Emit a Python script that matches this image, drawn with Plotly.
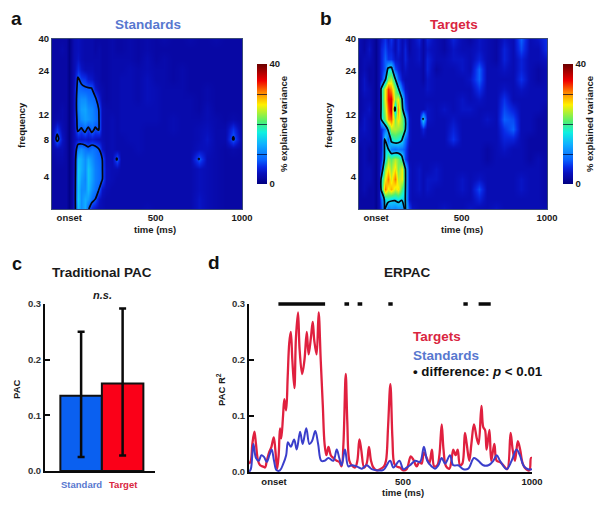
import plotly.graph_objects as go

W, H = 601, 509

# ---------- panels a / b ----------
time_bins = [-100,-70,-40,-20,0,15,30,50,70,90,110,130,150,170,190,210,
             250,275,300,350,400,450,500,550,600,650,700,750,800,850,900,950,1000]
freq_rows = list(range(18))
freq_tick_rows = [3.2, 6.9, 9.4, 13.8, 17]
freq_tick_text = ["4", "8", "12", "24", "40"]

# rows listed from the top (40) to the bottom of the map
standards_rows = [
 [2,2,2,2,.5,2,3,3.5,3,2.5,2.5,2.5,2,2,2,2, 2.5,2,2,2.5,2,2.5,2,2.5,2,2,2.5,2,2,2.5,2,2,2],
 [2,2,2.5,2,.5,2,3,3.5,3,2.5,2.5,2.5,2,2.5,2,2, 2.5,2,2,2.5,2,2.5,2,2,2,2,2,2,2,2,2,2,2],
 [2,2,2,2,.5,2,3,4,3,2.5,2.5,2.5,2.5,2.5,2,2, 2.5,2.5,2.5,2.5,2,3,2,2.5,2,2,2,2,2,2,2,2,2],
 [2,2,2,2,.5,2,3,5.5,4,3,3,3,2.5,2.5,2,2, 2.5,2.5,2.5,3,2.5,3,2.5,2.5,2,2.5,2,2,2,2,2,2,2],
 [2,2,2,2,.5,2,3.5,8,6.5,6,4.5,4,3,2.5,2,2, 2.5,2.5,3,3,2.5,3.5,2.5,2.5,2,2.5,2,2,2,2,2,2,2],
 [2,2,2,2,.5,2,4,9,8.5,8,8,7.8,4.5,3,2.5,2, 2.5,2.5,3,3,2.5,3.5,3,2.5,2.5,2.5,2,2,2.5,2,2,2,2],
 [2,2,2,2,.5,2,4,10,11,11,9.5,9,8.5,5,2.5,2, 2.5,2.5,3,3,2.5,3.5,3,2.5,2.5,2.5,2.5,2,2.5,2,2,2,2],
 [2,2,2.5,2,.5,2,4,10,12,12.5,11,10.5,9,7.6,3,2.5, 2.5,2.5,3,3,3,3,3,2.5,2.5,2.5,2.5,2,3,2,2,2,2],
 [2,2.5,2.5,2,.5,2,4,9,11,12,11.5,10.5,9.5,8,3,2.5, 3,2.5,3,3,3,3,3,2.5,3,2.5,2.5,2.5,3,2.5,2,2.5,2],
 [2.5,6,3,2,.5,2,3.5,8.5,7,9,6.5,9,7,8,3,2.5, 3,2.5,3,3,3,2.5,2.5,2.5,3,2.5,2.5,3,3.5,2.5,2.5,6,2],
 [2.5,9,4,2,.5,2,3,4.5,4,4.5,4,4.5,4,3.5,3,2.5, 3,2.5,2.5,3,3,2.5,2.5,2.5,2.5,2.5,2.5,3,4,2.5,2.5,8,2],
 [2.5,3,3,2,.5,2,4,10,11,9.5,8.5,9.5,9,7.7,4,2.5, 3,2.5,2.5,2.5,3,2.5,2.5,2.5,2.5,2.5,2.5,3.5,3.5,2.5,2,2.5,2],
 [2,2.5,2.5,2,.5,2,4,14,13,11,13,11,9.5,8.5,7.8,3, 3,8,2.5,2.5,2.5,2.5,2.5,2.5,2.5,2.5,2.5,7.7,3,2.5,2,2,2],
 [2,2,2,2,.5,2,4,15,13,11,14.5,12,10,9,8,3.5, 3,3,2.5,2.5,2.5,2.5,2.5,2.5,2.5,2.5,2.5,3.5,3,2.5,2,2,2],
 [2,2,2,2,.5,2,4.5,15,12,10.5,14.5,12,10,9,8,3.5, 3,2.5,2.5,2.5,2.5,2.5,2.5,2.5,2.5,2.5,2.5,3.5,3,2.5,2,2,2],
 [2,2,2,2,.5,2,5,14.5,11,11,14,11,9.5,8,4,3, 2.5,2.5,2.5,2.5,2.5,2.5,2.5,2.5,2.5,2.5,2.5,3.5,3,2.5,2,2,2],
 [2,2,2,2,.5,2,5,15,11,13,12,9,7.6,4,3,2.5, 2.5,2.5,2.5,2.5,2.5,2.5,2.5,2.5,2.5,2.5,2.5,4,3,2.5,2,2,2],
 [2,2,2,2,.5,2,5,14,11,13,8,5,4,3,3,2.5, 2.5,2.5,2.5,2.5,2.5,3,2.5,2.5,2.5,2.5,2.5,4,3,2.5,2,2,2],
]

targets_rows = [
 [3,2,3,2,1,3,4,6,4,6,3,5,3,4,2,3, 5,2,5,3,2,5,3,2,4,3,2,4,3,8,3,4,6],
 [3,2,4,2,1,3,5,7,5,5,3,5,3,5,2,3, 4,2,4,3,2,4,3,3,4,3,2,5,3,7,3,3,6],
 [2,3,3,2,1,3,5,8,6,6,4,4,3,5,3,3, 4,2,5,3,3,4,4,3,5,3,2,5,3,5,3,3,4],
 [2,3,2,2,1,3,5,8,16,17,7,5,3,4,3,3, 3,2,5,2,3,3,4,3,8,3,3,4,3,5,3,2,3],
 [2,4,2,2,1,3,5,12,22,24,16,8,4,3,3,3, 3,2,4,3,3,3,3,4,8,3,3,3,3,6,3,2,3],
 [2,4,3,2,1,3,16,26,33,30,22,16,8,4,3,3, 3,3,4,3,3,3,3,3,6,3,3,4,3,4,3,3,3],
 [2,3,3,2,1,3,16,26,34,35,23,26,16,6,3,3, 3,3,3,3,3,3,4,3,4,3,3,6,3,3,3,3,3],
 [2,3,4,2,1,3,16,24,32,36,13,30,18,8,3,3, 3,3,4,3,4,3,4,4,3,3,3,7,5,3,3,3,2],
 [2,4,3,2,1,3,15.5,22,30,32,22,27,22,16,4,3, 3,15.5,4,3,3,4,3,3,3,4,3,8,7,3,3,2,2],
 [3,4,3,2,1,3,5,9,16,24,24,23,22,16,4,3, 3,5,3,3,3,5,3,3,3,3,3,6,8,3,3,2,2],
 [3,3,3,2,1,3,4,15.5,8,17,19,18,16,9,4,3, 3,3,3,3,3,6,3,3,3,3,3,5,5,3,2,2,2],
 [2,3,2,2,1,3,4,15.5,15.5,10,9,10,9,7,3,3, 3,3,3,3,3,3,3,3,3,2,3,4,3,3,2,2,2],
 [2,3,2,2,1,3,5,16,23,21,24,22,18,7,3,3, 3,3,3,3,3,3,3,3,3,2,3,3,3,3,2,3,2],
 [2,3,3,2,1,3,8,23,27,23,27,22,26,16,4,3, 4,3,3,4,3,3,3,3,3,3,3,3,3,3,3,3,2],
 [2,3,3,2,1,3,16,26,31,25,31,24,26,16.5,4,3, 4,3,4,4,3,3,4,3,4,3,3,3,3,4,3,3,2],
 [2,3,2,2,1,3,16,31,26,29,25,27,20,16,4,3, 4,3,4,3,3,3,4,3,7,3,3,3,3,4,3,3,2],
 [2,2,2,2,1,3,8,16,18,16,16,17,15.6,15.6,4,3, 3,3,3,3,3,3,3,3,5,3,3,3,3,3,3,3,2],
 [2,2,2,2,1,3,6,15.5,9,11,10,11,11,16,7,4, 3,3,3,3,4,3,3,4,3,3,4,3,3,3,3,3,3],
]
standards_sig_level = 7.5
targets_sig_level = 15

colorbar_ticks = [0, 10, 20, 30, 40]
colorbar_text = ["0", "", "", "", "40"]

# ---------- panel c ----------
bar_groups = ["Standard", "Target"]
bar_means = [0.135, 0.157]
bar_upper = [0.250, 0.292]
bar_lower = [0.025, 0.028]

# ---------- panel d ----------
targets_t = [-97,-90,-84,-76,-70,-62,-54,-44,-35,-28,-19,-10,-1,5,12,18,23,28,35,40,47,53,59,65,71,79,85,93,99,
 109,118,127,134,143,150,156,165,173,181,189,196,203,211,220,230,243,253,262,269,278,284,292,301,314,323,331,338,
 349,359,368,376,385,398,411,426,434,442,451,459,466,475,488,501,514,530,540,553,563,572,581,592,602,612,621,633,
 641,650,657,667,680,686,695,704,712,721,730,740,747,757,765,775,786,793,804,811,818,824,835,842,854,863,876,889,
 904,917,925,934,945,954,964,977,990,996,1000]
targets_r2 = [.015,.02,.05,.072,.05,.02,.012,.01,.008,.02,.035,.045,.062,.04,.005,.03,.078,.06,.1,.13,.11,.17,.23,.25,.2,.15,.24,.285,.22,
 .175,.2,.25,.21,.24,.268,.235,.21,.285,.2,.12,.05,.03,.045,.03,.025,.02,.018,.01,.05,.175,.09,.02,.012,.008,.02,.058,.04,
 .008,.015,.045,.02,.008,.003,.005,.01,.02,.08,.157,.06,.015,.01,.008,.003,.005,.028,.022,.01,.018,.015,.035,.025,.015,.04,.01,.012,
 .03,.085,.04,.01,.006,.015,.04,.03,.04,.012,.015,.07,.05,.02,.05,.085,.06,.05,.118,.08,.075,.04,.075,.02,.05,.02,.018,.012,
 .005,.07,.04,.02,.055,.04,.015,.005,.003,.025,.025]

standards_t = [-97,-90,-80,-70,-59,-49,-39,-28,-18,-9,0,10,23,36,47,54,65,78,88,101,111,125,137,147,160,171,183,196,211,230,243,253,
 262,275,288,301,320,340,359,379,398,424,450,463,486,501,514,527,547,566,581,594,611,624,637,650,663,682,695,714,734,753,775,792,811,
 831,850,863,876,902,921,940,953,969,985,1000]
standards_r2 = [0,.005,.05,.025,.02,.03,.027,.018,.03,.04,.02,.003,.003,.015,.03,.053,.045,.058,.04,.072,.05,.078,.05,.055,.073,.05,.02,.02,.025,.02,.04,.025,
 .012,.04,.01,.012,.01,.006,.012,.005,.003,.004,.02,.008,.02,.005,.008,.012,.02,.018,.045,.02,.01,.006,.012,.025,.015,.03,.012,.012,.005,.006,.025,.02,.012,
 .012,.02,.03,.02,.005,.02,.04,.03,.01,.005,.005]

sig_start = [17, 273, 324, 443, 734, 793]
sig_end = [198, 291, 342, 460, 751, 840]
erpac_ticks = [0, 500, 1000]
erpac_tick_text = ["onset", "500", "1000"]
pac_ticks = [0, 0.1, 0.2, 0.3]

# ---------- styling helpers ----------
SANS = "Liberation Sans"
BLUE_T, RED_T = "#5878cf", "#d9263f"
def px(x): return x / W
def py(y): return 1 - y / H
def tf(size=9.5, color="#1a1a1a"):
    return dict(family=SANS, size=size, color=color, weight=700)

fig = go.Figure()
jet = [[0, "#00007f"], [.05, "#0808a4"], [.09, "#0810bc"], [.14, "#0828e4"], [.2, "#0860ff"], [.33, "#10b0ff"], [.43, "#10f0e0"],
       [.52, "#50f070"], [.66, "#fff000"], [.76, "#ff8800"], [.86, "#f00000"], [1, "#6a0000"]]

def heat(z_rows, xa, ya, cbx, level):
    z = z_rows[::-1]
    fig.add_trace(go.Heatmap(x=time_bins, y=freq_rows, z=z, zmin=0, zmax=40, zsmooth="best",
        colorscale=jet, xaxis=xa, yaxis=ya, hoverinfo="skip",
        colorbar=dict(x=px(cbx), xanchor="left", xpad=0, ypad=0, y=py(124), yanchor="middle",
                      lenmode="pixels", len=120, thicknessmode="pixels", thickness=10,
                      outlinewidth=0, tickmode="array", tickvals=colorbar_ticks, ticktext=colorbar_text,
                      ticks="inside", ticklen=10, tickwidth=1, tickcolor="rgba(0,0,40,.7)",
                      tickfont=tf(9.5), title=dict(text="% explained variance", side="right", font=tf(9.5)))))
    fig.add_trace(go.Contour(x=time_bins, y=freq_rows, z=z, xaxis=xa, yaxis=ya, showscale=False,
        autocontour=False, contours=dict(coloring="none", start=level, end=level, size=1),
        line=dict(color="#050510", width=1.7, smoothing=0.7), hoverinfo="skip"))

heat(standards_rows, "x", "y", 257, standards_sig_level)
heat(targets_rows, "x2", "y2", 563, targets_sig_level)

fig.add_trace(go.Bar(x=bar_groups, y=bar_means, width=1.0, xaxis="x3", yaxis="y3",
    marker=dict(color=["#0a60f0", "#fa0018"], line=dict(color="#111", width=2)),
    error_y=dict(type="data", symmetric=False,
                 array=[u - m for u, m in zip(bar_upper, bar_means)],
                 arrayminus=[m - l for l, m in zip(bar_lower, bar_means)],
                 color="#0a0a0a", thickness=2.5, width=3.5)))

fig.add_trace(go.Scatter(x=targets_t, y=targets_r2, mode="lines", xaxis="x4", yaxis="y4",
    line=dict(color="#e0203f", width=2.3, shape="spline", smoothing=1)))
fig.add_trace(go.Scatter(x=standards_t, y=standards_r2, mode="lines", xaxis="x4", yaxis="y4",
    line=dict(color="#3a3ecb", width=2, shape="spline", smoothing=1)))
sig_x, sig_y = [], []
for a, b in zip(sig_start, sig_end):
    sig_x += [a, b, None]
    sig_y += [0.3, 0.3, None]
# hidden twin subplot, slightly taller, so the significance bars on the 0.3 line are not clipped
fig.add_trace(go.Scatter(x=sig_x, y=sig_y, mode="lines", xaxis="x5", yaxis="y5",
    line=dict(color="#0a0a0a", width=3.5)))

def heat_axes(x0, x1):
    xa = dict(domain=[px(x0), px(x1)], range=[-100, 1000], tickmode="array",
              tickvals=erpac_ticks, ticktext=erpac_tick_text, ticks="", tickfont=tf(9.5),
              showgrid=False, zeroline=False, showline=True, mirror=True, linecolor="#3a4a78", linewidth=1)
    return xa

layout_axes = dict(
    xaxis=dict(heat_axes(52, 242), anchor="y"),
    yaxis=dict(domain=[py(209), py(39)], range=[0, 17], anchor="x", tickmode="array",
               tickvals=freq_tick_rows, ticktext=freq_tick_text, ticks="", tickfont=tf(9.5),
               showgrid=False, zeroline=False, showline=True, mirror=True, linecolor="#3a4a78"),
    xaxis2=dict(heat_axes(359, 547), anchor="y2"),
    yaxis2=dict(domain=[py(209), py(39)], range=[0, 17], anchor="x2", tickmode="array",
                tickvals=freq_tick_rows, ticktext=freq_tick_text, ticks="", tickfont=tf(9.5),
                showgrid=False, zeroline=False, showline=True, mirror=True, linecolor="#3a4a78"),
    xaxis3=dict(domain=[px(45), px(155)], range=[-0.87, 1.78], anchor="y3", type="category",
                categoryorder="array", categoryarray=bar_groups, showticklabels=False, ticks="",
                showgrid=False, zeroline=False, showline=True, linecolor="#0a0a0a", linewidth=2),
    yaxis3=dict(domain=[py(471), py(304)], range=[0, 0.3], anchor="x3", tickmode="array",
                tickvals=pac_ticks, ticktext=["0.0", "0.1", "0.2", "0.3"], ticks="inside", ticklen=5, tickwidth=2,
                tickcolor="#0a0a0a", tickfont=tf(9.5, "#333"), showgrid=False, zeroline=False,
                showline=True, linecolor="#0a0a0a", linewidth=2),
    xaxis4=dict(domain=[px(249), px(532)], range=[-97, 1000], anchor="y4", tickmode="array",
                tickvals=erpac_ticks, ticktext=erpac_tick_text, ticks="", tickfont=tf(9.5),
                showgrid=False, zeroline=False, showline=True, linecolor="#0a0a0a", linewidth=2),
    yaxis4=dict(domain=[py(472), py(304)], range=[0, 0.3], anchor="x4", tickmode="array",
                tickvals=pac_ticks, ticktext=["0.0", "0.1", "0.2", "0.3"], ticks="inside", ticklen=5, tickwidth=2,
                tickcolor="#0a0a0a", tickfont=tf(9.5, "#333"), showgrid=False, zeroline=False,
                showline=True, linecolor="#0a0a0a", linewidth=2),
    xaxis5=dict(domain=[px(249), px(532)], range=[-97, 1000], anchor="y5", visible=False),
    yaxis5=dict(domain=[py(472), py(298)], range=[0, 0.3 * 174 / 168], anchor="x5", visible=False),
)

def note(text, x, y, size=9.5, color="#1a1a1a", angle=0, anchor="center", family=SANS):
    return dict(text=text, x=px(x), y=py(y), xref="paper", yref="paper", showarrow=False,
                xanchor=anchor, yanchor="middle", textangle=angle,
                font=dict(family=family, size=size, color=color, weight=700))

annotations = [
    note("a", 16, 18, 19, "#111"), note("b", 326, 18, 19, "#111"),
    note("c", 17, 264, 18, "#111"), note("d", 214, 262, 19, "#111"),
    note("Standards", 148, 25, 13.5, BLUE_T), note("Targets", 454, 25, 13.5, RED_T),
    note("frequency", 21, 125, 9.5, angle=-90), note("frequency", 328, 125, 9.5, angle=-90),
    note("time (ms)", 155, 229), note("time (ms)", 462, 229),
    note("Traditional PAC", 102, 272, 13.5), note("<i>n.s.</i>", 103, 295, 11),
    note("PAC", 16, 390, 9.5, angle=-90), note("ERPAC", 408, 272, 13.5),
    note("PAC R<sup>2</sup>", 221, 390, 9.5, angle=-90), note("time (ms)", 403, 492),
    note("Standard", 81, 484, 9.5, BLUE_T), note("Target", 123, 484, 9.5, RED_T),
    note("Targets", 411, 336, 13.5, RED_T, anchor="left"),
    note("Standards", 411, 355, 13.5, BLUE_T, anchor="left"),
    note("• difference: <i>p</i> &lt; 0.01", 411, 371, 13.3, "#111", anchor="left"),
]

fig.update_layout(width=W, height=H, autosize=False,
                  margin=dict(l=0, r=0, t=0, b=0, autoexpand=False),
                  paper_bgcolor="white", plot_bgcolor="rgba(0,0,0,0)", showlegend=False,
                  annotations=annotations, **layout_axes)
fig.write_html("out.html", config={"displayModeBar": False},
               post_script="document.body.style.margin='0';")
